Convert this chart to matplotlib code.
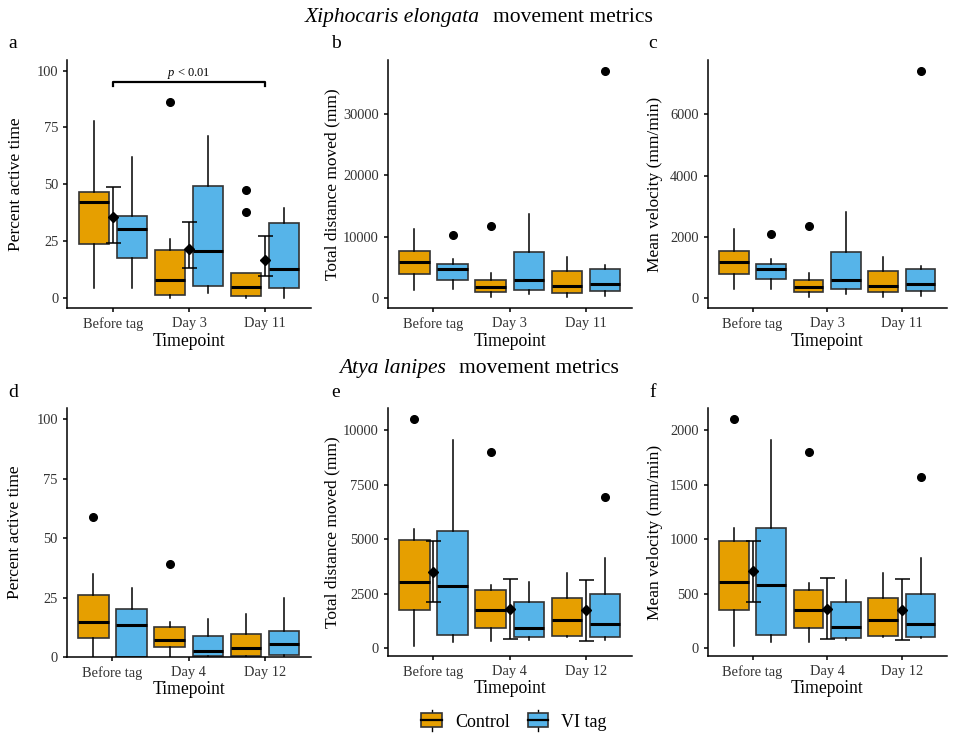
import numpy as np
import matplotlib
matplotlib.use("Agg")
import matplotlib.pyplot as plt
from matplotlib.patches import Patch, Rectangle
from matplotlib.lines import Line2D
from matplotlib.legend_handler import HandlerBase

plt.rcParams['font.family'] = ['Liberation Serif', 'DejaVu Serif']
plt.rcParams['mathtext.fontset'] = 'custom'
plt.rcParams['mathtext.rm'] = 'Liberation Serif'
plt.rcParams['mathtext.it'] = 'Liberation Serif:italic'

# timepoints
top_times = ["Before tag", "Day 3", "Day 11"]
bottom_times = ["Before tag", "Day 4", "Day 12"]

# each box: [whisker low, Q1, median, Q3, whisker high]
a_control = [[4.4, 23.5, 42.3, 46.4, 77.8], [0, 1.2, 7.8, 20.9, 25.7], [0, 0.9, 4.6, 11.0, 11.0]]
a_vitag = [[4.1, 17.6, 30.2, 36.0, 62.0], [2.0, 5.3, 20.4, 49.3, 71.2], [0, 4.1, 12.8, 32.9, 39.6]]
a_control_out = [[], [86.2], [47.3, 37.6]]
a_vitag_out = [[], [], []]
a_mean = [35.4, 21.6, 16.4]
a_lo = [23.9, 12.9, 9.5]
a_hi = [48.7, 33.3, 27.2]

b_control = [[1360, 4015, 5970, 7650, 11230], [270, 1085, 1790, 3040, 4180], [160, 815, 2060, 4450, 6670]]
b_vitag = [[1520, 3040, 4720, 5590, 6400], [705, 1410, 2985, 7540, 13730], [435, 1250, 2330, 4830, 5370]]
b_control_out = [[], [11770], []]
b_vitag_out = [[10360], [], [37060]]

c_control = [[293, 793, 1185, 1533, 2250], [54, 207, 359, 609, 837], [33, 196, 413, 891, 1337]]
c_vitag = [[304, 620, 967, 1120, 1283], [152, 293, 598, 1511, 2826], [87, 250, 467, 967, 1065]]
c_control_out = [[], [2359], []]
c_vitag_out = [[2087], [], [7424]]

d_control = [[0, 8.1, 14.7, 26.0, 34.9], [0, 4.3, 7.3, 12.5, 14.6], [0, 0.3, 3.9, 9.5, 18.1]]
d_vitag = [[0, 0.2, 13.3, 20.2, 29.1], [0, 0.3, 2.5, 8.8, 16.1], [0, 0.7, 5.3, 10.8, 24.8]]
d_control_out = [[59.0], [39.2], []]
d_vitag_out = [[], [], []]

e_control = [[122, 1771, 3023, 4947, 5466], [336, 916, 1756, 2687, 2916], [504, 550, 1282, 2321, 3466]]
e_vitag = [[275, 626, 2870, 5374, 9527], [382, 504, 947, 2137, 3038], [382, 504, 1099, 2489, 4153]]
e_control_out = [[10519], [8977], []]
e_vitag_out = [[], [], [6947]]
e_mean = [3511, 1817, 1740]
e_lo = [2122, 427, 351]
e_hi = [4916, 3191, 3115]

f_control = [[24, 354, 605, 986, 1099], [61, 183, 351, 537, 598], [101, 110, 256, 464, 693]]
f_vitag = [[55, 125, 577, 1102, 1908], [76, 95, 192, 424, 623], [95, 101, 223, 498, 830]]
f_control_out = [[2104], [1798], []]
f_vitag_out = [[], [], [1566]]
f_mean = [708, 363, 351]
f_lo = [421, 82, 73]
f_hi = [986, 647, 638]

col_control = "#E69F00"
col_vitag = "#56B4E9"
edge = "#333333"


def box_stats(boxes, outliers):
    stats = []
    for b, o in zip(boxes, outliers):
        stats.append(dict(whislo=b[0], q1=b[1], med=b[2], q3=b[3], whishi=b[4], fliers=o))
    return stats


def draw_panel(ax, control, vitag, c_out, v_out, times, ylim, yticks, ylabel,
               mean=None, lo=None, hi=None):
    x = np.arange(1, len(times) + 1)
    for boxes, outs, off, col in [(control, c_out, -0.25, col_control),
                                  (vitag, v_out, 0.25, col_vitag)]:
        ax.bxp(box_stats(boxes, outs), positions=x + off, widths=0.4,
               showcaps=False, patch_artist=True,
               boxprops=dict(facecolor=col, edgecolor=edge, linewidth=1.2),
               medianprops=dict(color="black", linewidth=2.2),
               whiskerprops=dict(color="black", linewidth=1.1),
               flierprops=dict(marker="o", markerfacecolor="black",
                               markeredgecolor="black", markersize=5.5))
    if mean is not None:
        m = np.array(mean)
        ax.errorbar(x, m, yerr=[m - np.array(lo), np.array(hi) - m], fmt="D",
                    color="black", markersize=5, capsize=5.4, elinewidth=1.1,
                    capthick=1.1, zorder=5)
    ax.set_xlim(0.4, len(times) + 0.6)
    ax.set_ylim(*ylim)
    ax.set_xticks(x)
    ax.set_xticklabels(times)
    ax.set_yticks(yticks)
    ax.set_yticklabels([str(t) for t in yticks])
    ax.tick_params(labelsize=10.4, length=3, width=1.1, colors="black",
                   labelcolor="#333333")
    for s in ["top", "right"]:
        ax.spines[s].set_visible(False)
    for s in ["left", "bottom"]:
        ax.spines[s].set_linewidth(1.1)
    ax.set_xlabel("Timepoint", fontsize=12.7)
    ax.set_ylabel(ylabel, fontsize=12.5, va="center")


class BoxKey(HandlerBase):
    def create_artists(self, legend, orig_handle, xdescent, ydescent, width,
                       height, fontsize, trans):
        x0, y0 = -xdescent, -ydescent
        cx = x0 + width / 2
        whisk = Line2D([cx, cx], [y0 - 0.25 * height, y0 + 1.25 * height],
                       color="black", lw=1.0, transform=trans)
        box = Rectangle((x0, y0), width, height,
                        facecolor=orig_handle.get_facecolor(), edgecolor=edge,
                        lw=1.2, transform=trans)
        med = Line2D([x0, x0 + width], [y0 + height / 2] * 2, color="black",
                     lw=1.6, transform=trans)
        return [whisk, box, med]


W, H = 957, 734
fig = plt.figure(figsize=(W / 100, H / 100), dpi=100)


def px_axes(left, top, right, bottom):
    return fig.add_axes([left / W, 1 - bottom / H, (right - left) / W, (bottom - top) / H])


ax_a = px_axes(67.3, 60, 310.7, 308.3)
ax_b = px_axes(387.7, 60, 631.7, 308.3)
ax_c = px_axes(707.7, 60, 946.7, 308.3)
ax_d = px_axes(66.7, 408.3, 310.7, 657)
ax_e = px_axes(387.7, 408.3, 631.7, 656)
ax_f = px_axes(707.7, 408.3, 946.7, 656)

draw_panel(ax_a, a_control, a_vitag, a_control_out, a_vitag_out, top_times,
           (-4.7, 104.7), [0, 25, 50, 75, 100], "Percent active time",
           a_mean, a_lo, a_hi)
draw_panel(ax_b, b_control, b_vitag, b_control_out, b_vitag_out, top_times,
           (-1630, 38800), [0, 10000, 20000, 30000], "Total distance moved (mm)")
draw_panel(ax_c, c_control, c_vitag, c_control_out, c_vitag_out, top_times,
           (-326, 7772), [0, 2000, 4000, 6000], "Mean velocity (mm/min)")
draw_panel(ax_d, d_control, d_vitag, d_control_out, d_vitag_out, bottom_times,
           (0, 104.5), [0, 25, 50, 75, 100], "Percent active time")
draw_panel(ax_e, e_control, e_vitag, e_control_out, e_vitag_out, bottom_times,
           (-351, 10992), [0, 2500, 5000, 7500, 10000], "Total distance moved (mm)",
           e_mean, e_lo, e_hi)
draw_panel(ax_f, f_control, f_vitag, f_control_out, f_vitag_out, bottom_times,
           (-70, 2198), [0, 500, 1000, 1500, 2000], "Mean velocity (mm/min)",
           f_mean, f_lo, f_hi)

# label placement
for ax, yl, xl in [(ax_a, -0.21, -0.135), (ax_b, -0.228, -0.135), (ax_c, -0.22, -0.135),
                   (ax_d, -0.21, -0.13), (ax_e, -0.228, -0.13), (ax_f, -0.22, -0.13)]:
    ax.yaxis.set_label_coords(yl, 0.5)
    ax.xaxis.set_label_coords(0.5, xl)
    ax.xaxis.label.set_va("center")

# significance bracket in panel a
ax_a.plot([1, 1, 3, 3], [93.3, 94.9, 94.9, 93.3], color="black", lw=1.6)
ax_a.text(2, 98.9, "$p$ < 0.01", ha="center", va="center", fontsize=9)

# panel letters
for lab, xp, yp in [("a", 13, 48), ("b", 336, 48), ("c", 653, 48),
                    ("d", 13, 397), ("e", 336, 397), ("f", 653, 397)]:
    fig.text(xp / W, 1 - yp / H, lab, ha="center", va="baseline", fontsize=14)

# row titles: italic species name + plain text, centred as one line
renderer = fig.canvas.get_renderer()
for sp, yb in [("Xiphocaris elongata", 22), ("Atya lanipes", 373)]:
    t1 = fig.text(0, 1 - yb / H, sp, ha="left", va="baseline",
                  fontsize=15.5, style="italic")
    t2 = fig.text(0, 1 - yb / H, "movement metrics", ha="left", va="baseline",
                  fontsize=15.5)
    w1 = t1.get_window_extent(renderer).width
    w2 = t2.get_window_extent(renderer).width
    gap = 13
    x0 = 479 - (w1 + gap + w2) / 2
    t1.set_x(x0 / W)
    t2.set_x((x0 + w1 + gap) / W)

handles = [Patch(facecolor=col_control, label="Control"),
           Patch(facecolor=col_vitag, label="VI tag")]
fig.legend(handles=handles, loc="center", bbox_to_anchor=(514 / W, 1 - 722 / H),
           ncol=2, frameon=False, fontsize=13, handlelength=1.15,
           handleheight=0.8, columnspacing=1.0, handletextpad=0.7,
           handler_map={Patch: BoxKey()})

fig.savefig("out.png", dpi=100)
